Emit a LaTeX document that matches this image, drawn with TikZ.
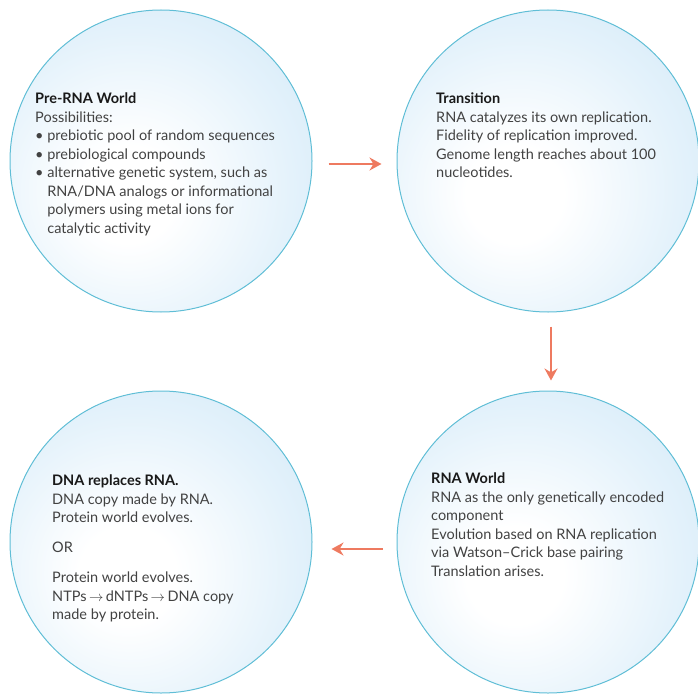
\documentclass[tikz,border=0pt]{standalone}
\usepackage{fontspec}
\setmainfont{Lato}
\usepackage{tikz}
\usetikzlibrary{arrows.meta,positioning,calc}
\definecolor{rim}{RGB}{96,190,214}
\definecolor{cellblue}{RGB}{202,229,247}
\definecolor{cellmid}{RGB}{228,242,251}
\definecolor{arrowred}{RGB}{238,122,96}
\definecolor{bodygray}{RGB}{66,66,66}
\pgfdeclareradialshading{bubble}{\pgfpoint{-6bp}{-6bp}}{color(0bp)=(white); color(8bp)=(white); color(26bp)=(cellmid); color(46bp)=(cellblue); color(100bp)=(cellblue)}
\newcommand{\hd}[1]{{\color{black!90}\bfseries #1}}
\newcommand{\bulletpad}{\hphantom{\textbullet\ }}
\tikzset{
  world/.style={circle, draw=rim, line width=1pt, minimum size=302pt, inner sep=0pt, shading=bubble},
  blurb/.style={anchor=north west, align=left, inner sep=0pt, text=bodygray, font=\fontsize{14.5}{18.5}\selectfont},
  arr/.style={draw=arrowred, line width=2.6pt, -{Stealth[length=12pt,width=13pt]}}
}

\begin{document}
\begin{tikzpicture}[x=1pt,y=-1pt]
    \useasboundingbox (0,0) rectangle (698,698);

    \node [world] (prerna) at (161,161) {};
    \node [world] (transition) at (548,161) {};
    \node [world] (dnaworld) at (161,542) {};
    \node [world] (rnaworld) at (548,542) {};

    \node [blurb] (prerna-text) at (35,93) {\hd{Pre-RNA World}\\
        Possibilities:\\
        \textbullet\ prebiotic pool of random sequences\\
        \textbullet\ prebiological compounds\\
        \textbullet\ alternative genetic system, such as\\
        \bulletpad RNA/DNA analogs or informational\\
        \bulletpad polymers using metal ions for\\
        \bulletpad catalytic activity};
    \node [blurb] (transition-text) at (436,93) {\hd{Transition}\\
        RNA catalyzes its own replication.\\
        Fidelity of replication improved.\\
        Genome length reaches about 100\\
        nucleotides.};
    \node [blurb] (rnaworld-text) at (431,473) {\hd{RNA World}\\
        RNA as the only genetically encoded\\
        component\\
        Evolution based on RNA replication\\
        via Watson--Crick base pairing\\
        Translation arises.};
    \node [blurb] (dnaworld-text) at (52,475) {\hd{DNA replaces RNA.}\\
        DNA copy made by RNA.\\
        Protein world evolves.\\[11.5pt]
        OR\\[11.5pt]
        Protein world evolves.\\
        NTPs\,$\rightarrow$\,dNTPs\,$\rightarrow$\,DNA copy\\
        made by protein.};

    \draw [arr, shorten <=16pt, shorten >=15pt] ([yshift=-3pt]prerna.east) -- ([yshift=-3pt]transition.west);
    \draw [arr, shorten <=14pt, shorten >=10pt] ([xshift=3pt]transition.south) -- ([xshift=3pt]rnaworld.north);
    \draw [arr, shorten <=14pt, shorten >=19pt] ([yshift=-7pt]rnaworld.west) -- ([yshift=-7pt]dnaworld.east);
\end{tikzpicture}
\end{document}
